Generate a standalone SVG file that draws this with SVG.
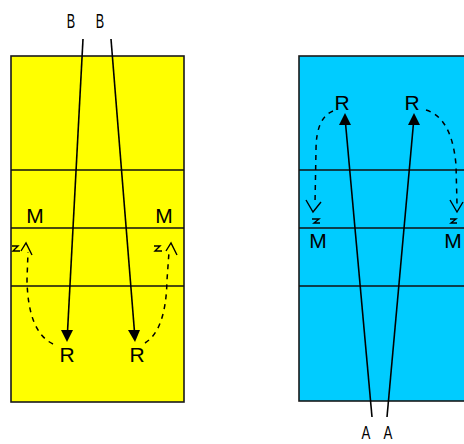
<svg xmlns="http://www.w3.org/2000/svg" width="464" height="444" viewBox="0 0 464 444">
<style>
.court{stroke:#1a1a1a;stroke-width:1.6}
.net{stroke:#111;stroke-width:1.5}
.pass{stroke:#000;stroke-width:1.6;fill:none}
.run{stroke:#000;stroke-width:1.5;fill:none;stroke-dasharray:5 5}
.tip{stroke:#000;stroke-width:1.4;fill:none}
text{font-family:"Liberation Sans",Arial,sans-serif;font-size:21px;fill:#000;text-anchor:middle}
</style>
<rect width="464" height="444" fill="#fff"/>
<g id="court-yellow">
<rect class="court" x="11" y="56" width="173" height="346" fill="#ffff00"/>
<line class="net" x1="11" y1="170" x2="184" y2="170"/>
<line class="net" x1="11" y1="228" x2="184" y2="228"/>
<line class="net" x1="11" y1="286" x2="184" y2="286"/>
</g>
<g id="court-blue">
<rect class="court" x="299" y="56" width="180" height="345" fill="#00ccff"/>
<line class="net" x1="299" y1="170" x2="479" y2="170"/>
<line class="net" x1="299" y1="228" x2="479" y2="228"/>
<line class="net" x1="299" y1="286" x2="479" y2="286"/>
</g>
<g id="labels">
<text transform="translate(71,28) scale(0.6,1)">B</text>
<text transform="translate(100,28) scale(0.6,1)">B</text>
<text x="35" y="223">M</text>
<text x="164" y="223">M</text>
<text x="67" y="362">R</text>
<text x="137" y="362">R</text>
<text x="342" y="110">R</text>
<text x="412" y="110">R</text>
<text x="318" y="248">M</text>
<text x="453" y="248">M</text>
<text transform="translate(366,439) scale(0.7,1)" style="font-size:19px">A</text>
<text transform="translate(388,439) scale(0.7,1)" style="font-size:19px">A</text>
</g>
<g id="connectors">
<line class="pass" x1="83" y1="39" x2="67.5" y2="332"/>
<polygon points="61,330 73,330 67,342" fill="#000"/>
<line class="pass" x1="111" y1="39" x2="134.5" y2="332"/>
<polygon points="128,330 140,330 135,342" fill="#000"/>
<line class="pass" x1="372" y1="417" x2="345.5" y2="123"/>
<polygon points="339,125 351,125 345,113" fill="#000"/>
<line class="pass" x1="387" y1="417" x2="413.5" y2="123"/>
<polygon points="408,125 420,125 414,113" fill="#000"/>
<path class="run" d="M53 344 Q28 332 27 280 L28 252"/>
<polyline class="tip" points="21,251 26,243 32,255"/>
<polyline class="tip" points="12,246 18,246 13,251 20,251"/>
<path class="run" d="M145 343 Q166 330 167 280 L169 252"/>
<polyline class="tip" points="166,251 171,243 177,255"/>
<polyline class="tip" points="154,246 160,246 155,251 162,251"/>
<path class="run" d="M333 111 Q316 118 316 150 L315 204"/>
<polyline class="tip" points="306,200 313,212 321,202"/>
<polyline class="tip" points="312,219 319,219 314,223 320,223"/>
<path class="run" d="M426 110 Q452 118 456 165 L457 204"/>
<polyline class="tip" points="450,200 457,212 463,202"/>
<polyline class="tip" points="450,219 456,219 451,223 457,223"/>
</g>
</svg>
